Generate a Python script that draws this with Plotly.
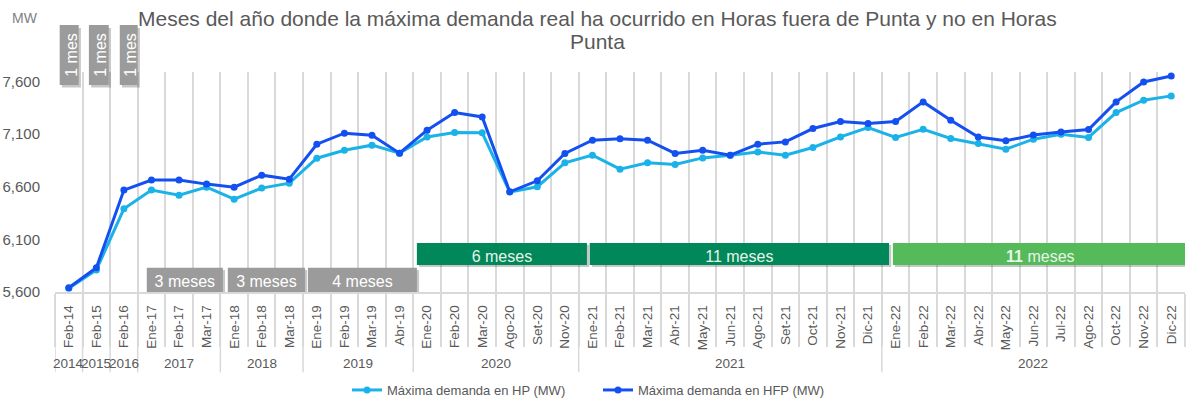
import plotly.graph_objects as go

categories = ["Feb-14", "Feb-15", "Feb-16", "Ene-17", "Feb-17", "Mar-17", "Ene-18", "Feb-18", "Mar-18",
              "Ene-19", "Feb-19", "Mar-19", "Abr-19", "Ene-20", "Feb-20", "Mar-20", "Ago-20", "Set-20",
              "Nov-20", "Ene-21", "Feb-21", "Mar-21", "Abr-21", "May-21", "Jun-21", "Ago-21", "Set-21",
              "Oct-21", "Nov-21", "Dic-21", "Ene-22", "Feb-22", "Mar-22", "Abr-22", "May-22", "Jun-22",
              "Jul-22", "Ago-22", "Oct-22", "Nov-22", "Dic-22"]
years = ["2014", "2015", "2016", "2017", "2018", "2019", "2020", "2021", "2022"]
year_counts = [1, 1, 1, 3, 3, 4, 6, 11, 11]

hp = [5635, 5810, 6390, 6568, 6520, 6596, 6482, 6587, 6634,
      6871, 6947, 6995, 6919, 7073, 7115, 7112, 6550, 6600,
      6827, 6900, 6767, 6827, 6811, 6874, 6900, 6931, 6900,
      6973, 7073, 7163, 7068, 7146, 7058, 7011, 6957, 7052,
      7099, 7068, 7305, 7422, 7463]
hfp = [5640, 5830, 6568, 6663, 6663, 6625, 6596, 6710, 6672,
       7004, 7109, 7090, 6919, 7137, 7305, 7263, 6552, 6656,
       6916, 7042, 7055, 7042, 6916, 6947, 6900, 7004, 7026,
       7153, 7219, 7201, 7219, 7406, 7232, 7073, 7036, 7092,
       7121, 7144, 7406, 7595, 7652]

y_ticks = [5600, 6100, 6600, 7100, 7600]

title_lines = ["Meses del año donde la máxima demanda real ha ocurrido en Horas fuera de Punta y no en Horas",
               "Punta"]

# boxes: (label, start index, end index)
vertical_boxes = [("1 mes", -0.33, 0.36), ("1 mes", 0.73, 1.45), ("1 mes", 1.85, 2.5)]
gray_boxes = [("3 meses", 2.83, 5.59), ("3 meses", 5.77, 8.57), ("4 meses", 8.68, 12.63)]
green_boxes = [("6 meses", 12.63, 18.8, "#00875A"), ("11 meses", 18.9, 29.76, "#00875A"),
               ("<b>11</b> meses", 29.9, 40.6, "#55BB5A")]

TXT = "#595959"
HP_COLOR = "#1AB2E8"
HFP_COLOR = "#1450F0"
GRID = "#D9D9D9"

fig = go.Figure()
fig.add_trace(go.Scatter(x=categories, y=hp, mode="lines+markers", name="Máxima demanda en HP (MW)",
                         line=dict(color=HP_COLOR, width=3), marker=dict(size=7, color=HP_COLOR)))
fig.add_trace(go.Scatter(x=categories, y=hfp, mode="lines+markers", name="Máxima demanda en HFP (MW)",
                         line=dict(color=HFP_COLOR, width=3), marker=dict(size=7, color=HFP_COLOR)))

shapes = []
annotations = []
shadow = "rgba(0,0,0,0.22)"

for lab, x0, x1 in vertical_boxes:
    shapes.append(dict(type="rect", xref="x", yref="paper", x0=x0 + 0.08, x1=x1 + 0.08, y0=0.93, y1=1.20,
                       fillcolor=shadow, line_width=0, layer="above"))
    shapes.append(dict(type="rect", xref="x", yref="paper", x0=x0, x1=x1, y0=0.941, y1=1.214,
                       fillcolor="#9B9B9B", line_width=0, layer="above",
                       label=dict(text=lab, textangle=-90, textposition="middle center",
                                  font=dict(size=16, color="white"))))

for lab, x0, x1 in gray_boxes:
    shapes.append(dict(type="rect", xref="x", yref="y", x0=x0 + 0.08, x1=x1 + 0.08, y0=5590, y1=5810,
                       fillcolor=shadow, line_width=0, layer="above"))
    shapes.append(dict(type="rect", xref="x", yref="y", x0=x0, x1=x1, y0=5600, y1=5830,
                       fillcolor="#9B9B9B", line_width=0, layer="above",
                       label=dict(text=lab, textposition="middle center",
                                  font=dict(size=16, color="white"))))

for lab, x0, x1, col in green_boxes:
    shapes.append(dict(type="rect", xref="x", yref="y", x0=x0 + 0.08, x1=x1 + 0.08, y0=5838, y1=6048,
                       fillcolor=shadow, line_width=0, layer="above"))
    shapes.append(dict(type="rect", xref="x", yref="y", x0=x0, x1=x1, y0=5856, y1=6065,
                       fillcolor=col, line_width=0, layer="above",
                       label=dict(text=lab, textposition="middle center",
                                  font=dict(size=16, color="#E8F4E8"))))

# year labels and dividers
start = 0
bounds = [-0.5]
for yr, n in zip(years, year_counts):
    center = start + (n - 1) / 2
    annotations.append(dict(x=center, y=-0.326, xref="x", yref="paper", xanchor="center", yanchor="middle",
                            text=yr, showarrow=False, font=dict(size=13.5, color=TXT)))
    start += n
    bounds.append(start - 0.5)
for b in bounds[:-1]:
    shapes.append(dict(type="line", xref="x", yref="paper", x0=b, x1=b, y0=0, y1=-0.365,
                       line=dict(color=GRID, width=1.5)))

# title lines
annotations.append(dict(x=0.4805, y=(292 - 18) / 220, xref="paper", yref="paper", text=title_lines[0],
                        showarrow=False, xanchor="center", yanchor="middle", font=dict(size=21, color=TXT)))
annotations.append(dict(x=0.4805, y=(292 - 41) / 220, xref="paper", yref="paper", text=title_lines[1],
                        showarrow=False, xanchor="center", yanchor="middle", font=dict(size=21, color=TXT)))

annotations.append(dict(x=(24.5 - 55) / 1130, y=(292 - 18) / 220, xref="paper", yref="paper", text="MW",
                        xanchor="center", yanchor="middle", showarrow=False,
                        font=dict(size=14, color="#7F7F7F")))

fig.update_layout(
    width=1187, height=401,
    margin=dict(l=55, r=2, t=72, b=109),
    paper_bgcolor="white", plot_bgcolor="white",
    font=dict(family="Liberation Sans, Arial, sans-serif", color=TXT),
    xaxis=dict(type="category", range=[-0.5, len(categories) - 0.5], tickson="boundaries",
               showgrid=True, gridcolor=GRID, gridwidth=1.5,
               ticks="outside", ticklen=53, tickcolor=GRID, tickwidth=1.5, ticklabelstandoff=6,
               tickangle=-90, tickfont=dict(size=13.5, color=TXT), automargin=False,
               showline=True, linecolor=GRID, linewidth=1.5, zeroline=False),
    yaxis=dict(range=[5600, 7690], tickvals=y_ticks, tickformat=",", showgrid=False, zeroline=False,
               tickfont=dict(size=15, color=TXT), ticks="outside", ticklen=11,
               tickcolor="rgba(0,0,0,0)", showline=False, automargin=False),
    legend=dict(orientation="h", xref="container", yref="container", x=347 / 1187, xanchor="left",
                y=(401 - 390) / 401, yanchor="middle", entrywidth=206, entrywidthmode="pixels",
                font=dict(size=13, color=TXT)),
    shapes=shapes, annotations=annotations,
    showlegend=True,
)

fig.write_html("out.html", config={"displayModeBar": False},
               post_script="document.body.style.margin='0';document.body.style.overflow='hidden';")
